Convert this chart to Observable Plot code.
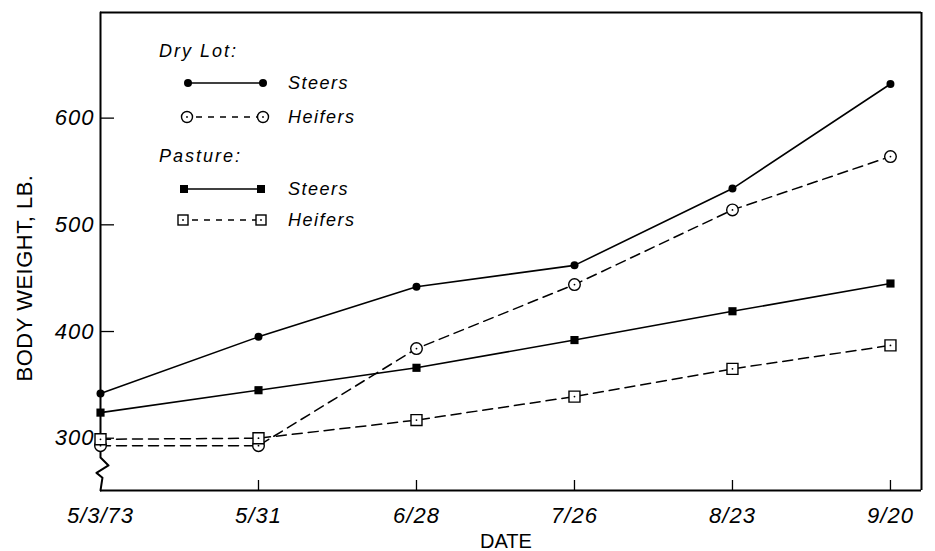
<!DOCTYPE html>
<html>
<head>
<meta charset="utf-8">
<script src="https://cdn.jsdelivr.net/npm/d3@7"></script>
<script src="https://cdn.jsdelivr.net/npm/@observablehq/plot@0.6"></script>
<style>
  html, body { margin: 0; padding: 0; background: #fff; }
  #chart { position: relative; width: 935px; height: 551px; }
  #chart svg { font-family: "Liberation Sans", "DejaVu Sans", sans-serif; }
  #chart svg .ticklbl text { font-size: 22px; font-style: italic; letter-spacing: 1px; }
</style>
</head>
<body>
<div id="chart"></div>
<script>
// ---- data ----
const dateLabels = ["5/3/73", "5/31", "6/28", "7/26", "8/23", "9/20"];
const days = [0, 28, 56, 84, 112, 140];
const dryLotSteers   = [342, 395, 442, 462, 534, 632];
const dryLotHeifers  = [293, 293, 384, 444, 514, 564];
const pastureSteers  = [324, 345, 366, 392, 419, 445];
const pastureHeifers = [299, 300, 317, 339, 365, 387];
const yTicks = [300, 400, 500, 600];
const xDomain = [0, 145.5];
const yDomain = [251, 699];
// axis-break zigzag on the left axis (data units)
const breakPath = [[0, 699], [0, 282], [1.42, 274.5], [-0.71, 267.5], [0.35, 263], [0, 251]];

const W = 935, H = 551;
const mL = 100, mR = 14, mT = 12, mB = 61;

function rows(vals) { return days.map((d, i) => ({x: d, y: vals[i]})); }
const dls = rows(dryLotSteers), dlh = rows(dryLotHeifers), ps = rows(pastureSteers), ph = rows(pastureHeifers);

const dash = "10,6";
const plot = Plot.plot({
  width: W, height: H,
  marginLeft: mL, marginRight: mR, marginTop: mT, marginBottom: mB,
  x: {type: "linear", domain: xDomain, axis: null},
  y: {type: "linear", domain: yDomain, axis: null},
  style: {background: "#fff", color: "#000", fontFamily: "Liberation Sans, DejaVu Sans, sans-serif"},
  marks: [
    // frame
    Plot.ruleY([yDomain[1]], {stroke: "#000", strokeWidth: 2}),
    Plot.ruleY([yDomain[0]], {stroke: "#000", strokeWidth: 2}),
    Plot.ruleX([xDomain[1]], {stroke: "#000", strokeWidth: 2}),
    Plot.line(breakPath, {x: d => d[0], y: d => d[1], stroke: "#000", strokeWidth: 2, curve: "linear"}),
    // inward ticks
    Plot.ruleX(days.slice(1), {x: d => d, stroke: "#000", strokeWidth: 1.3, insetTop: (H - mT - mB) - 10}),
    Plot.ruleY(yTicks, {y: d => d, stroke: "#000", strokeWidth: 1.3, insetRight: (W - mL - mR) - 14}),
    // tick labels
    Plot.axisX({ticks: days, tickSize: 0, tickPadding: 17, tickFormat: d => dateLabels[days.indexOf(d)],
      label: null, className: "ticklbl"}),
    Plot.axisY({ticks: yTicks, tickSize: 0, tickPadding: 6, label: null, className: "ticklbl"}),
    // series lines
    Plot.line(dls, {x: "x", y: "y", stroke: "#000", strokeWidth: 1.6}),
    Plot.line(ps, {x: "x", y: "y", stroke: "#000", strokeWidth: 1.6}),
    Plot.line(dlh, {x: "x", y: "y", stroke: "#000", strokeWidth: 1.5, strokeDasharray: dash}),
    Plot.line(ph, {x: "x", y: "y", stroke: "#000", strokeWidth: 1.5, strokeDasharray: dash}),
    // markers
    Plot.dot(dls, {x: "x", y: "y", r: 4, fill: "#000", stroke: "none"}),
    Plot.dot(ps, {x: "x", y: "y", r: 4.6, symbol: "square", fill: "#000", stroke: "none"}),
    Plot.dot(dlh, {x: "x", y: "y", r: 5.8, fill: "#fff", stroke: "#000", strokeWidth: 1.4}),
    Plot.dot(dlh, {x: "x", y: "y", r: 0.9, fill: "#000", stroke: "none"}),
    Plot.dot(ph, {x: "x", y: "y", r: 6.2, symbol: "square", fill: "#fff", stroke: "#000", strokeWidth: 1.4}),
    Plot.dot(ph, {x: "x", y: "y", r: 0.9, fill: "#000", stroke: "none"})
  ]
});
document.getElementById("chart").appendChild(plot);

// ---- axis titles & legend (text) ----
const svg = d3.select(plot);
svg.append("text").text("DATE")
  .attr("x", 506).attr("y", 548).attr("text-anchor", "middle")
  .attr("font-size", 20).attr("fill", "#000");
svg.append("text").text("BODY WEIGHT, LB.")
  .attr("transform", "translate(32,278) rotate(-90)").attr("text-anchor", "middle")
  .attr("font-size", 22).attr("letter-spacing", "0.5px").attr("fill", "#000");

const legendGroups = [
  {title: "Dry Lot:", ty: 57, items: [
    {label: "Steers", y: 83, x1: 188, x2: 263, dash: null, marker: "dot"},
    {label: "Heifers", y: 117, x1: 187, x2: 263, dash: "6,6", marker: "ring"}]},
  {title: "Pasture:", ty: 162, items: [
    {label: "Steers", y: 189, x1: 184, x2: 261, dash: null, marker: "sq"},
    {label: "Heifers", y: 220, x1: 183, x2: 261, dash: "6,6", marker: "osq"}]}
];
const lg = svg.append("g").attr("fill", "#000").attr("text-anchor", "start");
for (const g of legendGroups) {
  lg.append("text").text(g.title).attr("x", 159).attr("y", g.ty)
    .attr("font-size", 18).attr("font-style", "italic").attr("letter-spacing", "2px");
  for (const it of g.items) {
    lg.append("line").attr("x1", it.x1).attr("x2", it.x2).attr("y1", it.y).attr("y2", it.y)
      .attr("stroke", "#000").attr("stroke-width", 1.5).attr("stroke-dasharray", it.dash)
      .attr("stroke-dashoffset", it.dash ? -9 : null);
    for (const x of [it.x1, it.x2]) {
      if (it.marker === "dot") lg.append("circle").attr("cx", x).attr("cy", it.y).attr("r", 4);
      if (it.marker === "ring") {
        lg.append("circle").attr("cx", x).attr("cy", it.y).attr("r", 5.5).attr("fill", "#fff").attr("stroke", "#000").attr("stroke-width", 1.4);
        lg.append("circle").attr("cx", x).attr("cy", it.y).attr("r", 0.9);
      }
      if (it.marker === "sq") lg.append("rect").attr("x", x - 4).attr("y", it.y - 4).attr("width", 8).attr("height", 8);
      if (it.marker === "osq") {
        lg.append("rect").attr("x", x - 5).attr("y", it.y - 5).attr("width", 10).attr("height", 10).attr("fill", "#fff").attr("stroke", "#000").attr("stroke-width", 1.4);
        lg.append("circle").attr("cx", x).attr("cy", it.y).attr("r", 0.9);
      }
    }
    lg.append("text").text(it.label).attr("x", 288).attr("y", it.y + 6)
      .attr("font-size", 18).attr("font-style", "italic").attr("letter-spacing", "1.5px");
  }
}
</script>
</body>
</html>
